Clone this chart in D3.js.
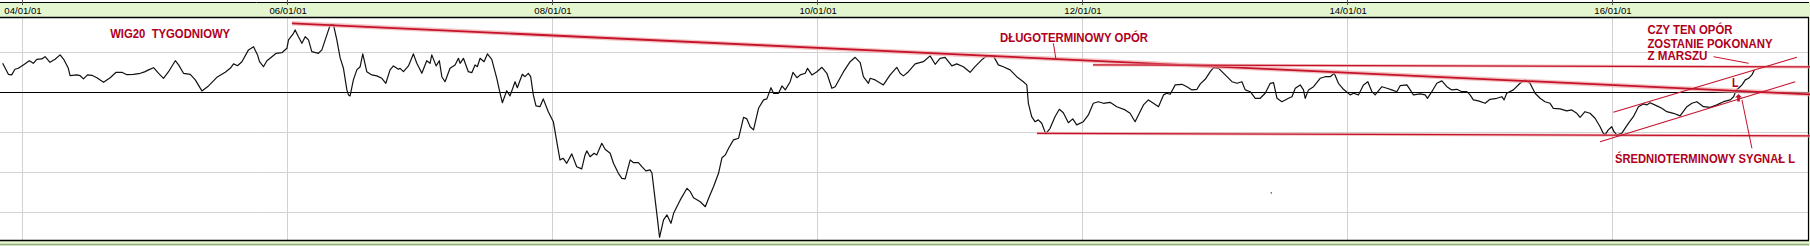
<!DOCTYPE html>
<html>
<head>
<meta charset="utf-8">
<script src="https://cdn.jsdelivr.net/npm/d3@7"></script>
<style>
	body { margin: 0; padding: 0; background: #fff; }
	svg { display: block; }
</style>
</head>
<body>
<div id="chart"></div>
<script>
// WIG20 weekly, decimal years
var weeks = [
	2003.854,2003.897,2003.922,2003.947,2003.972,2004.010,2004.055,2004.085,2004.111,2004.149,
	2004.174,2004.211,2004.249,2004.287,2004.317,2004.349,2004.362,2004.413,2004.438,2004.463,
	2004.493,2004.526,2004.564,2004.614,2004.664,2004.709,2004.752,2004.790,2004.840,2004.891,
	2004.923,2004.953,2004.991,2005.029,2005.066,2005.104,2005.155,2005.180,2005.217,2005.268,
	2005.306,2005.356,2005.406,2005.469,2005.532,2005.570,2005.595,2005.625,2005.658,2005.708,
	2005.746,2005.776,2005.791,2005.821,2005.847,2005.885,2005.917,2005.960,2005.998,2006.010,
	2006.048,2006.060,2006.085,2006.111,2006.136,2006.161,2006.186,2006.236,2006.262,2006.287,
	2006.325,2006.349,2006.375,2006.400,2006.425,2006.451,2006.463,2006.475,2006.500,2006.526,
	2006.551,2006.571,2006.601,2006.639,2006.677,2006.715,2006.745,2006.777,2006.802,2006.840,
	2006.853,2006.878,2006.916,2006.953,2006.979,2007.017,2007.054,2007.079,2007.092,2007.125,
	2007.149,2007.168,2007.192,2007.230,2007.268,2007.293,2007.306,2007.331,2007.368,2007.394,
	2007.419,2007.436,2007.457,2007.487,2007.512,2007.545,2007.583,2007.608,2007.625,2007.658,
	2007.683,2007.721,2007.738,2007.776,2007.796,2007.821,2007.839,2007.859,2007.879,2007.909,
	2007.934,2007.972,2008.010,2008.036,2008.060,2008.085,2008.111,2008.149,2008.186,2008.224,
	2008.249,2008.262,2008.287,2008.317,2008.337,2008.375,2008.400,2008.438,2008.463,2008.500,
	2008.526,2008.551,2008.589,2008.614,2008.651,2008.677,2008.707,2008.740,2008.753,2008.777,
	2008.795,2008.810,2008.840,2008.866,2008.896,2008.916,2008.966,2009.017,2009.042,2009.066,
	2009.117,2009.155,2009.180,2009.217,2009.255,2009.281,2009.306,2009.331,2009.368,2009.406,
	2009.444,2009.469,2009.494,2009.519,2009.557,2009.595,2009.620,2009.651,2009.670,2009.708,
	2009.734,2009.759,2009.796,2009.817,2009.847,2009.872,2009.910,2009.927,2009.960,2009.998,
	2010.036,2010.073,2010.111,2010.136,2010.199,2010.249,2010.287,2010.325,2010.349,2010.387,
	2010.400,2010.438,2010.500,2010.551,2010.601,2010.626,2010.651,2010.689,2010.740,2010.802,
	2010.853,2010.891,2010.928,2010.966,2011.017,2011.054,2011.104,2011.155,2011.192,2011.243,
	2011.281,2011.331,2011.368,2011.406,2011.457,2011.507,2011.557,2011.583,2011.595,2011.620,
	2011.645,2011.670,2011.696,2011.726,2011.759,2011.796,2011.829,2011.859,2011.897,2011.930,
	2011.960,2012.010,2012.048,2012.085,2012.123,2012.161,2012.211,2012.262,2012.325,2012.362,
	2012.400,2012.425,2012.463,2012.500,2012.538,2012.576,2012.614,2012.639,2012.664,2012.702,
	2012.753,2012.790,2012.828,2012.866,2012.891,2012.928,2012.966,2012.991,2013.029,2013.079,
	2013.130,2013.168,2013.205,2013.230,2013.268,2013.306,2013.343,2013.381,2013.419,2013.444,
	2013.470,2013.507,2013.557,2013.583,2013.608,2013.645,2013.670,2013.683,2013.708,2013.746,
	2013.796,2013.834,2013.872,2013.902,2013.934,2013.972,2014.023,2014.048,2014.085,2014.123,
	2014.156,2014.187,2014.211,2014.262,2014.300,2014.337,2014.375,2014.400,2014.451,2014.476,
	2014.500,2014.551,2014.589,2014.606,2014.639,2014.677,2014.715,2014.753,2014.790,2014.828,
	2014.866,2014.904,2014.928,2014.953,2014.991,2015.042,2015.079,2015.130,2015.168,2015.185,
	2015.205,2015.255,2015.306,2015.343,2015.381,2015.419,2015.457,2015.494,2015.532,2015.557,
	2015.608,2015.658,2015.696,2015.734,2015.759,2015.796,2015.834,2015.872,2015.910,2015.934,
	2015.947,2015.972,2015.998,2016.015,2016.036,2016.073,2016.123,2016.161,2016.199,2016.236,
	2016.262,2016.287,2016.338,2016.375,2016.413,2016.463,2016.513,2016.564,2016.602,2016.639,
	2016.689,2016.740,2016.790,2016.840,2016.891,2016.916,2016.936,2016.953,2016.979,2017.004,
	2017.029,2017.054,2017.072
];
var closes = [
	2545,2490,2487,2515,2520,2537,2558,2545,2565,2567,
	2578,2550,2565,2587,2562,2520,2483,2487,2483,2467,
	2487,2485,2473,2450,2473,2500,2500,2488,2490,2495,
	2502,2512,2523,2495,2470,2503,2558,2537,2495,2490,
	2462,2407,2432,2475,2500,2520,2542,2533,2553,2612,
	2628,2587,2553,2528,2558,2578,2595,2598,2620,2662,
	2695,2712,2678,2645,2678,2662,2603,2595,2612,2662,
	2737,2740,2662,2572,2520,2412,2387,2382,2462,2512,
	2528,2592,2503,2487,2482,2470,2445,2512,2532,2515,
	2520,2503,2532,2592,2545,2495,2558,2545,2587,2532,
	2558,2478,2453,2520,2537,2570,2545,2570,2503,2498,
	2537,2528,2570,2553,2592,2565,2470,2395,2348,2408,
	2382,2453,2423,2490,2478,2495,2478,2387,2332,2328,
	2367,2303,2253,2153,2062,2070,2045,2092,2028,2017,
	2087,2107,2078,2095,2087,2145,2115,2095,2045,1995,
	1970,1967,2062,2048,2048,2028,2007,2012,1995,1862,
	1762,1675,1762,1787,1745,1795,1862,1920,1903,1873,
	1853,1828,1870,1928,1995,2073,2087,2120,2162,2170,
	2275,2267,2228,2212,2320,2362,2367,2423,2395,2395,
	2432,2412,2453,2500,2473,2487,2495,2520,2487,2503,
	2525,2495,2420,2428,2503,2553,2575,2548,2478,2445,
	2470,2462,2437,2487,2525,2495,2482,2503,2542,2553,
	2582,2540,2570,2575,2532,2542,2528,2500,2528,2562,
	2583,2582,2537,2528,2512,2478,2453,2437,2345,2278,
	2253,2262,2245,2192,2220,2278,2315,2298,2248,2267,
	2237,2253,2287,2345,2353,2345,2350,2328,2312,2295,
	2253,2287,2337,2362,2345,2328,2387,2395,2390,2437,
	2440,2428,2412,2415,2442,2465,2503,2523,2520,2487,
	2453,2445,2453,2412,2403,2370,2370,2395,2445,2448,
	2370,2353,2370,2378,2420,2437,2412,2370,2412,2428,
	2470,2478,2478,2495,2445,2415,2387,2395,2387,2437,
	2453,2403,2387,2428,2420,2412,2403,2433,2437,2412,
	2387,2392,2387,2370,2403,2445,2457,2428,2412,2415,
	2403,2403,2387,2362,2357,2345,2365,2370,2378,2362,
	2395,2412,2445,2462,2445,2395,2370,2353,2345,2320,
	2317,2307,2312,2295,2275,2303,2295,2270,2228,2195,
	2187,2212,2228,2203,2187,2195,2245,2278,2328,2342,
	2337,2348,2332,2320,2303,2295,2282,2328,2345,2353,
	2328,2325,2337,2353,2362,2378,2412,2420,2437,2462,
	2470,2487,2512
];

var tick_dates = ['2004-01-01','2006-01-01','2008-01-01','2010-01-01','2012-01-01','2014-01-01','2016-01-01'];
var grid_levels = [1800, 2000, 2200, 2600, 2800];
var base_level = 2400;

// trend lines drawn by the author: [year, level] pairs
var resistance_long = [[2006.036, 2745], [2017.494, 2390]];
var range_top = [[2012.083, 2537], [2017.494, 2527]];
var range_bottom = [[2011.660, 2195], [2017.494, 2182]];
var channel_low = [[2015.910, 2153], [2017.381, 2453]];
var channel_high = [[2016.010, 2300], [2017.394, 2575]];
var pointers = [
	[[2011.784, 2645], [2011.804, 2562]],
	[[2016.765, 2578], [2017.029, 2545]],
	[[2017.054, 2120], [2016.979, 2362]]
];

var label_texts = ['WIG20  TYGODNIOWY', 'DŁUGOTERMINOWY OPÓR', 'CZY TEN OPÓR', 'ZOSTANIE POKONANY', 'Z MARSZU', 'ŚREDNIOTERMINOWY SYGNAŁ L', 'L'];
var label_years = [2004.664, 2011.381, 2016.267, 2016.267, 2016.267, 2016.023, 2016.903];
var label_levels = [2674, 2650, 2690, 2620, 2562, 2048, 2425];
var signal_arrow = [2016.953, 2392];
var stray_dot = [2013.427, 1897];

var chart_fmt = {
	width: 1810,
	height: 246,
	plot_top: 18,
	plot_bottom: 240,
	plot_right: 1808.5,
	clr_head: '#e4f6d0',
	clr_head_line: '#93ab80',
	clr_grid: '#d2d2d2',
	clr_price: '#111',
	clr_red: '#c4122a',
	clr_halo: '#f0a8a8',
	clr_text: '#b0001c',
	font: '"Liberation Sans", Arial, sans-serif'
};
// label widths (the original font is narrower)
var label_width = [120, 148, 85, 125, 60, 180, 6.6];

function year_to_date(y) {
	var yr = Math.floor(y);
	var a = Date.UTC(yr, 0, 1), b = Date.UTC(yr + 1, 0, 1);
	return new Date(a + (y - yr) * (b - a));
}

function drawchart() {
	var svg = d3.select('#chart').append('svg')
		.attr('width', chart_fmt.width)
		.attr('height', chart_fmt.height)
		.style('background-color', '#fff');

	var xScale = d3.scaleUtc()
		.domain([new Date('2004-01-01T00:00:00Z'), new Date('2016-01-01T00:00:00Z')])
		.range([22, 1612]);
	var yScale = d3.scaleLinear()
		.domain([2400, 2600])
		.range([92.3, 52.3]);

	var ticks = tick_dates.map(function(d) { return new Date(d + 'T00:00:00Z'); });

	// grid
	var grid = svg.append('g');
	grid.selectAll('line.vgrid').data(ticks).enter().append('line')
		.attr('class', 'vgrid')
		.attr('x1', function(d) { return Math.round(xScale(d)) + 0.5; })
		.attr('x2', function(d) { return Math.round(xScale(d)) + 0.5; })
		.attr('y1', chart_fmt.plot_top)
		.attr('y2', chart_fmt.plot_bottom)
		.attr('stroke', chart_fmt.clr_grid);
	grid.selectAll('line.hgrid').data(grid_levels).enter().append('line')
		.attr('class', 'hgrid')
		.attr('x1', 0)
		.attr('x2', chart_fmt.plot_right)
		.attr('y1', function(d) { return Math.round(yScale(d)) + 0.5; })
		.attr('y2', function(d) { return Math.round(yScale(d)) + 0.5; })
		.attr('stroke', chart_fmt.clr_grid);
	grid.append('line')
		.attr('x1', 0)
		.attr('x2', chart_fmt.plot_right)
		.attr('y1', Math.round(yScale(base_level)) + 0.5)
		.attr('y2', Math.round(yScale(base_level)) + 0.5)
		.attr('stroke', '#000')
		.attr('stroke-width', 1.2);

	// header band with date axis
	svg.append('rect')
		.attr('x', 0).attr('y', 2)
		.attr('width', chart_fmt.width).attr('height', chart_fmt.plot_top - 2)
		.attr('fill', chart_fmt.clr_head);
	svg.append('line')
		.attr('x1', 0).attr('x2', chart_fmt.width).attr('y1', 2.5).attr('y2', 2.5)
		.attr('stroke', '#000');
	svg.append('line')
		.attr('x1', 0).attr('x2', chart_fmt.width).attr('y1', chart_fmt.plot_top - 0.5).attr('y2', chart_fmt.plot_top - 0.5)
		.attr('stroke', '#000').attr('stroke-width', 1.3);

	var xAxis = d3.axisTop(xScale)
		.tickValues(ticks)
		.tickSize(0)
		.tickPadding(0)
		.tickFormat(d3.utcFormat('%y/%m/%d'));
	var ax = svg.append('g')
		.attr('transform', 'translate(0.5,14)')
		.call(xAxis);
	ax.select('.domain').remove();
	ax.selectAll('text')
		.attr('y', 0).attr('dy', 0)
		.style('font-family', chart_fmt.font)
		.style('font-size', '9.6px')
		.attr('fill', '#000');
	svg.selectAll('line.htick').data(ticks).enter().append('line')
		.attr('x1', function(d) { return Math.round(xScale(d)) + 0.5; })
		.attr('x2', function(d) { return Math.round(xScale(d)) + 0.5; })
		.attr('y1', 0).attr('y2', 5)
		.attr('stroke', '#555');

	// bottom band
	svg.append('rect')
		.attr('x', 0).attr('y', chart_fmt.plot_bottom)
		.attr('width', chart_fmt.width).attr('height', chart_fmt.height - chart_fmt.plot_bottom)
		.attr('fill', chart_fmt.clr_head);
	svg.append('line')
		.attr('x1', 0).attr('x2', chart_fmt.width).attr('y1', 244.5).attr('y2', 244.5)
		.attr('stroke', chart_fmt.clr_head_line).attr('stroke-width', 1.4);
	svg.append('line')
		.attr('x1', 0).attr('x2', chart_fmt.width).attr('y1', chart_fmt.plot_bottom + 0.5).attr('y2', chart_fmt.plot_bottom + 0.5)
		.attr('stroke', '#000').attr('stroke-width', 1.3);
	// right frame
	svg.append('rect')
		.attr('x', chart_fmt.plot_right + 0.5).attr('y', 2)
		.attr('width', 2).attr('height', chart_fmt.height - 2)
		.attr('fill', chart_fmt.clr_head);
	svg.append('line')
		.attr('x1', chart_fmt.plot_right).attr('x2', chart_fmt.plot_right)
		.attr('y1', chart_fmt.plot_top).attr('y2', chart_fmt.plot_bottom)
		.attr('stroke', '#000').attr('stroke-width', 1.2);

	// price
	var data = weeks.map(function(w, i) { return { date: year_to_date(w), value: closes[i] }; });
	var line = d3.line()
		.x(function(el) { return xScale(el.date); })
		.y(function(el) { return yScale(el.value); });
	svg.append('path')
		.datum(data)
		.attr('d', line)
		.style('stroke', chart_fmt.clr_price)
		.style('stroke-width', 1.2)
		.style('stroke-linejoin', 'round')
		.style('fill', 'none');

	svg.append('circle')
		.attr('cx', xScale(year_to_date(stray_dot[0])))
		.attr('cy', yScale(stray_dot[1]))
		.attr('r', 0.8)
		.attr('fill', '#666');

	// trend lines
	var tline = d3.line()
		.x(function(p) { return xScale(year_to_date(p[0])); })
		.y(function(p) { return yScale(p[1]); });
	function trend(pts, halo, core) {
		if (halo) {
			svg.append('path').attr('d', tline(pts))
				.attr('stroke', chart_fmt.clr_halo).attr('stroke-opacity', 0.7)
				.attr('stroke-width', halo).attr('fill', 'none');
		}
		svg.append('path').attr('d', tline(pts))
			.attr('stroke', chart_fmt.clr_red)
			.attr('stroke-width', core).attr('fill', 'none');
	}
	trend(resistance_long, 4.5, 1.8);
	trend(range_top, 3, 1.2);
	trend(range_bottom, 3, 1.2);
	trend(channel_low, 0, 1.1);
	trend(channel_high, 0, 1.1);
	pointers.forEach(function(p) { trend(p, 0, 1); });

	// signal arrow
	var ax0 = xScale(year_to_date(signal_arrow[0])), ay0 = yScale(signal_arrow[1]);
	svg.append('path')
		.attr('d', 'M' + ax0 + ',' + ay0 + 'l-3.5,3.5h2.2v4.2h2.6v-4.2h2.2z')
		.attr('fill', chart_fmt.clr_red);

	// labels
	svg.selectAll('text.note').data(label_texts).enter().append('text')
		.attr('class', 'note')
		.attr('x', function(d, i) { return xScale(year_to_date(label_years[i])); })
		.attr('y', function(d, i) { return yScale(label_levels[i]); })
		.attr('textLength', function(d, i) { return label_width[i]; })
		.attr('lengthAdjust', 'spacingAndGlyphs')
		.style('white-space', 'pre')
		.style('font-family', chart_fmt.font)
		.style('font-weight', 'bold')
		.style('font-size', '12px')
		.attr('fill', chart_fmt.clr_text)
		.text(function(d) { return d; });
}

drawchart();
</script>
</body>
</html>
